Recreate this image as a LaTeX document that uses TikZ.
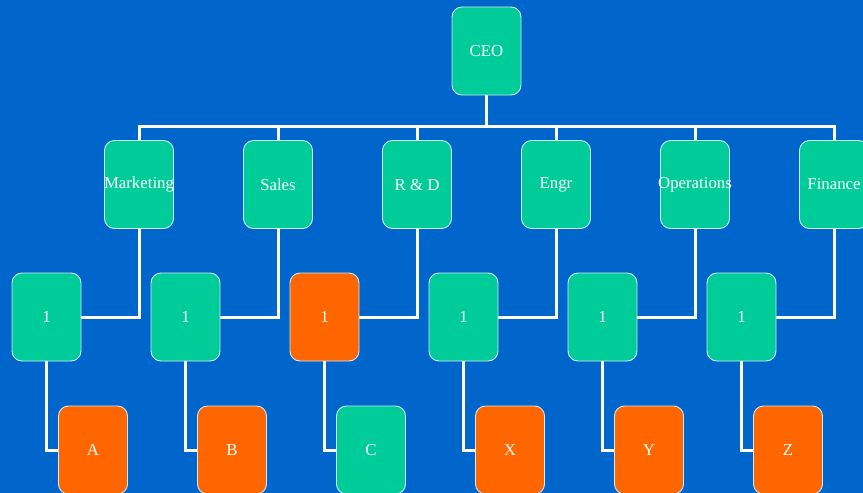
\documentclass[tikz,border=0pt]{standalone}
\usepackage{fontspec}
\setmainfont{Liberation Serif}
\usetikzlibrary{calc}
\definecolor{bgblue}{RGB}{0,102,204}
\definecolor{teal}{RGB}{0,204,153}
\definecolor{orng}{RGB}{255,102,0}
\definecolor{edge}{RGB}{210,235,245}
\pgfdeclarelayer{canvas}
\pgfdeclarelayer{links}
\pgfsetlayers{canvas,links,main}
% a label that may spill over its box without widening it
\newcommand{\wide}[1]{\makebox[0pt]{#1}}
\begin{document}
\begin{tikzpicture}[x=1pt,y=-1pt,
  box/.style={draw=edge,line width=0.9pt,rounded corners=10pt,minimum width=69pt,minimum height=88pt,inner sep=0pt,text=white,font=\fontsize{16.8}{19}\selectfont},
  tbox/.style={box,fill=teal},
  obox/.style={box,fill=orng},
  link/.style={draw=white,line width=3pt}]
\useasboundingbox (0,0) rectangle (863,493);
\clip (0,0) rectangle (863,493);
\begin{pgfonlayer}{canvas}
\fill[bgblue] (0,0) rectangle (863,493);
\end{pgfonlayer}
% top
\node[tbox] (ceo) at (486.5,51) {CEO};
% departments
\node[tbox] (d1) at (139,184.5) {\wide{Marketing}};
\node[tbox] (d2) at (278,184.5) {Sales};
\node[tbox] (d3) at (417,184.5) {R \& D};
\node[tbox] (d4) at (556,184.5) {Engr};
\node[tbox] (d5) at (695,184.5) {\wide{Operations}};
\node[tbox] (d6) at (834,184.5) {Finance};
% groups
\node[tbox] (g1) at (46.5,317) {1};
\node[tbox] (g2) at (185.5,317) {1};
\node[obox] (g3) at (324.5,317) {1};
\node[tbox] (g4) at (463.5,317) {1};
\node[tbox] (g5) at (602.5,317) {1};
\node[tbox] (g6) at (741.5,317) {1};
% units
\node[obox] (u1) at (93,450) {A};
\node[obox] (u2) at (232,450) {B};
\node[tbox] (u3) at (371,450) {C};
\node[obox] (u4) at (510,450) {X};
\node[obox] (u5) at (649,450) {Y};
\node[obox] (u6) at (788,450) {Z};
% connectors, kept beneath the boxes
\coordinate (bus) at ($(ceo.south)+(0,31)$);
\begin{pgfonlayer}{links}
\foreach \i in {1,...,6}{
  \draw[link] (ceo.south) -- (bus) -| (d\i.north);
  \draw[link] (d\i.south) |- (g\i.east);
  \draw[link] (g\i.south) |- (u\i.west);
}
\end{pgfonlayer}
\end{tikzpicture}
\end{document}
